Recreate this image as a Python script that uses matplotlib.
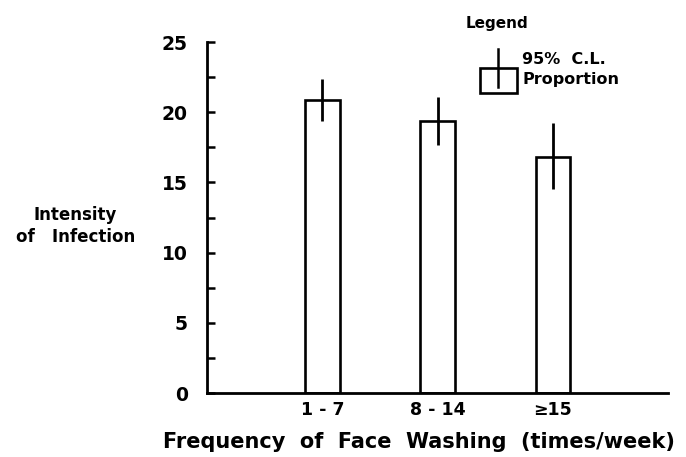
import matplotlib.pyplot as plt
from matplotlib.patches import Rectangle
from matplotlib.lines import Line2D

# data
groups = ['1 - 7', '8 - 14', '≥15']
proportion = [20.9, 19.4, 16.8]
ci_low = [19.4, 17.7, 14.5]
ci_high = [22.4, 21.1, 19.2]

plt.rcParams['font.family'] = 'DejaVu Sans'
plt.rcParams['font.weight'] = 'bold'

fig = plt.figure(figsize=(6.86, 4.57), dpi=100)
ax = fig.add_axes([0.302, 0.140, 0.672, 0.768])

xpos = [1, 2, 3]
ax.bar(xpos, proportion, width=0.3, facecolor='white', edgecolor='black', linewidth=1.9)
ax.vlines(xpos, ci_low, ci_high, color='black', linewidth=2.0)

ax.set_xlim(0, 4)
ax.set_ylim(0, 25)
ax.set_xticks(xpos)
ax.set_xticklabels(groups, fontsize=12.5, fontweight='bold')
ax.tick_params(axis='x', length=0, pad=6)
ax.set_yticks([0, 5, 10, 15, 20, 25])
ax.set_yticks([2.5, 7.5, 12.5, 17.5, 22.5], minor=True)
ax.tick_params(axis='y', which='both', direction='in', length=6, width=1.8, labelsize=13.5, pad=14)
for lab in ax.get_yticklabels():
    lab.set_fontweight('bold')

ax.spines['top'].set_visible(False)
ax.spines['right'].set_visible(False)
ax.spines['left'].set_linewidth(2.0)
ax.spines['bottom'].set_linewidth(2.0)

ax.set_xlabel('Frequency  of  Face  Washing  (times/week)', fontsize=15, fontweight='bold')
ax.xaxis.set_label_coords(0.46, -0.11)
fig.text(0.11, 0.505, 'Intensity\nof   Infection', ha='center', va='center', fontsize=12,
         fontweight='bold', linespacing=1.3)

# hand drawn legend
ax.text(0.56, 1.054, 'Legend', transform=ax.transAxes, fontsize=11, fontweight='bold',
        va='center', ha='left', clip_on=False)
ax.add_patch(Rectangle((0.592, 0.855), 0.08, 0.071, transform=ax.transAxes, facecolor='white',
                       edgecolor='black', linewidth=1.9, clip_on=False))
ax.add_line(Line2D([0.631, 0.631], [0.872, 0.98], transform=ax.transAxes, color='black',
                   linewidth=1.8, clip_on=False))
ax.text(0.683, 0.949, '95%  C.L.', transform=ax.transAxes, fontsize=11.5, fontweight='bold',
        va='center', ha='left')
ax.text(0.683, 0.892, 'Proportion', transform=ax.transAxes, fontsize=11.5, fontweight='bold',
        va='center', ha='left')

fig.savefig('out.png', dpi=100)
